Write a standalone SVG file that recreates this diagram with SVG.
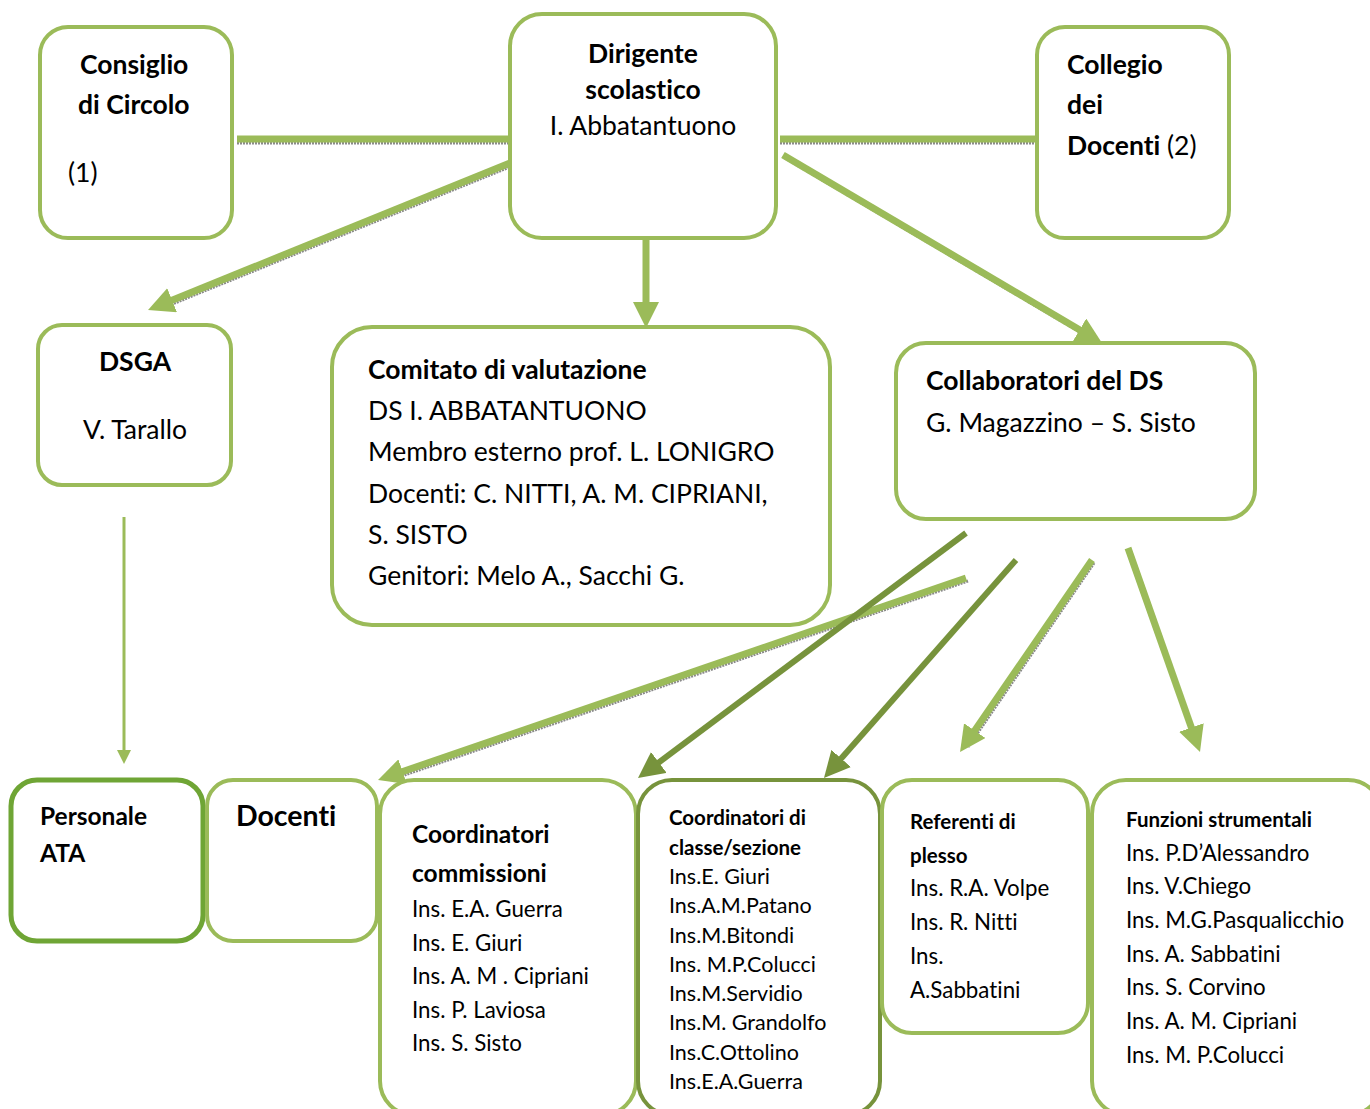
<svg xmlns="http://www.w3.org/2000/svg" width="1370" height="1109" viewBox="0 0 1370 1109">
<defs>
<style>
.box{fill:#fff;stroke:#9BBB59;stroke-width:4}
.dark{stroke:#77933C}
.ata{stroke:#6FA535;stroke-width:5}
text{font-family:Lato,"Open Sans",sans-serif;fill:#000;font-variant-ligatures:none;font-feature-settings:"liga" 0}
.b{font-weight:bold}
.t24{font-size:26.5px}
.t20{font-size:22.3px}
.t19{font-size:21.5px}
.ln{stroke:#9BBB59;stroke-width:7;fill:none}
.lnd{stroke:#77933C;stroke-width:6;fill:none}
.sh{stroke:#8a8a8a;stroke-width:3;stroke-dasharray:2 1;fill:none}
</style>
<marker id="ah" markerUnits="userSpaceOnUse" markerWidth="26" markerHeight="26" viewBox="0 0 26 26" refX="16" refY="13" orient="auto"><path d="M0,0 L26,13 L0,26 z" fill="#9BBB59"/></marker>
<marker id="ahd" markerUnits="userSpaceOnUse" markerWidth="26" markerHeight="26" viewBox="0 0 26 26" refX="16" refY="13" orient="auto"><path d="M0,0 L26,13 L0,26 z" fill="#77933C"/></marker>
<marker id="ahs" markerUnits="userSpaceOnUse" markerWidth="14" markerHeight="14" viewBox="0 0 14 14" refX="8" refY="7" orient="auto"><path d="M0,0 L14,7 L0,14 z" fill="#9BBB59"/></marker>
</defs>
<rect width="1370" height="1109" fill="#fff"/>
<g id="connectors">
<line class="sh" x1="237" y1="143" x2="510" y2="143"/>
<line class="ln" x1="237" y1="139" x2="510" y2="139"/>
<line class="sh" x1="780" y1="143" x2="1037" y2="143"/>
<line class="ln" x1="780" y1="139" x2="1037" y2="139"/>
<line class="sh" x1="512" y1="166" x2="160" y2="309"/>
<line class="ln" x1="510" y1="163" x2="157.3" y2="306.2" marker-end="url(#ah)"/>
<line class="ln" x1="646" y1="238" x2="646" y2="318" marker-end="url(#ah)"/>
<line class="sh" x1="785" y1="158" x2="1095" y2="341"/>
<line class="ln" x1="783" y1="155" x2="1093.4" y2="337.9" marker-end="url(#ah)"/>
<line x1="124" y1="517" x2="124" y2="758" stroke="#9BBB59" stroke-width="3" marker-end="url(#ahs)"/>
<line class="sh" x1="968" y1="581" x2="390" y2="780"/>
<line class="ln" x1="966" y1="578" x2="387.5" y2="776.8" marker-end="url(#ah)"/>
<line class="lnd" x1="966" y1="533" x2="646" y2="772" marker-end="url(#ahd)"/>
<line class="lnd" x1="1016" y1="560" x2="830.6" y2="770.5" marker-end="url(#ahd)"/>
<line class="sh" x1="1094" y1="563" x2="968" y2="747"/>
<line class="ln" x1="1092" y1="560" x2="965.7" y2="743.8" marker-end="url(#ah)"/>
<line class="sh" x1="1130" y1="551" x2="1199" y2="746"/>
<line class="ln" x1="1128" y1="548" x2="1196.7" y2="742.6" marker-end="url(#ah)"/>
</g>
<g id="consiglio">
<rect class="box" x="40" y="27" width="192" height="211" rx="28"/>
<text class="b t24" x="80" y="74">Consiglio</text>
<text class="b t24" x="78" y="114">di Circolo</text>
<text class="t24" x="68" y="182">(1)</text>
</g>
<g id="dirigente">
<rect class="box" x="510" y="14" width="266" height="224" rx="32"/>
<text class="b t24" x="643" y="63" text-anchor="middle">Dirigente</text>
<text class="b t24" x="643" y="99" text-anchor="middle">scolastico</text>
<text class="t24" x="643" y="135" text-anchor="middle">I. Abbatantuono</text>
</g>
<g id="collegio">
<rect class="box" x="1037" y="27" width="192" height="211" rx="28"/>
<text class="b t24" x="1067" y="74">Collegio</text>
<text class="b t24" x="1067" y="114">dei</text>
<text class="t24" x="1067" y="155"><tspan class="b">Docenti</tspan> (2)</text>
</g>
<g id="dsga">
<rect class="box" x="38" y="325" width="193" height="160" rx="24"/>
<text class="b t24" x="135" y="371" text-anchor="middle">DSGA</text>
<text class="t24" x="135" y="439" text-anchor="middle">V. Tarallo</text>
</g>
<g id="comitato">
<rect class="box" x="332" y="327" width="498" height="298" rx="40"/>
<text class="b t24" x="368" y="379">Comitato di valutazione</text>
<text class="t24" x="368" y="420">DS  I. ABBATANTUONO</text>
<text class="t24" x="368" y="461">Membro esterno prof. L. LONIGRO</text>
<text class="t24" x="368" y="503">Docenti: C. NITTI, A. M. CIPRIANI,</text>
<text class="t24" x="368" y="544">S. SISTO</text>
<text class="t24" x="368" y="585">Genitori: Melo A., Sacchi G.</text>
</g>
<g id="collaboratori">
<rect class="box" x="896" y="343" width="359" height="176" rx="30"/>
<text class="b t24" x="926" y="390">Collaboratori del DS</text>
<text class="t24" x="926" y="432">G. Magazzino – S. Sisto</text>
</g>
<g id="personale-ata">
<rect class="box ata" x="11" y="780" width="192" height="161" rx="26"/>
<text class="b" font-size="24.5" x="40" y="825">Personale</text>
<text class="b" font-size="24.5" x="40" y="862">ATA</text>
</g>
<g id="docenti">
<rect class="box" x="207" y="780" width="170" height="161" rx="26"/>
<text class="b" font-size="28.5" x="236" y="826">Docenti</text>
</g>
<g id="coord-commissioni">
<rect class="box" x="380" y="780" width="256" height="335" rx="34"/>
<text class="b" font-size="24.5" x="412" y="843">Coordinatori</text>
<text class="b" font-size="24.5" x="412" y="882">commissioni</text>
<text class="t20" x="412" y="917">Ins. E.A. Guerra</text>
<text class="t20" x="412" y="951">Ins. E. Giuri</text>
<text class="t20" x="412" y="984">Ins. A. M . Cipriani</text>
<text class="t20" x="412" y="1018">Ins. P. Laviosa</text>
<text class="t20" x="412" y="1051">Ins. S. Sisto</text>
</g>
<g id="coord-classe">
<rect class="box dark" x="638" y="780" width="242" height="335" rx="34"/>
<text class="b" font-size="20.5" x="669" y="825">Coordinatori di</text>
<text class="b" font-size="20.5" x="669" y="855">classe/sezione</text>
<text class="t19" x="669" y="884">Ins.E. Giuri</text>
<text class="t19" x="669" y="913">Ins.A.M.Patano</text>
<text class="t19" x="669" y="943">Ins.M.Bitondi</text>
<text class="t19" x="669" y="972">Ins. M.P.Colucci</text>
<text class="t19" x="669" y="1001">Ins.M.Servidio</text>
<text class="t19" x="669" y="1030">Ins.M. Grandolfo</text>
<text class="t19" x="669" y="1060">Ins.C.Ottolino</text>
<text class="t19" x="669" y="1089">Ins.E.A.Guerra</text>
</g>
<g id="referenti">
<rect class="box" x="882" y="780" width="206" height="253" rx="30"/>
<text class="b" font-size="20.5" x="910" y="829">Referenti di</text>
<text class="b" font-size="20.5" x="910" y="863">plesso</text>
<text class="t20" x="910" y="896">Ins. R.A. Volpe</text>
<text class="t20" x="910" y="930">Ins. R. Nitti</text>
<text class="t20" x="910" y="964">Ins.</text>
<text class="t20" x="910" y="998">A.Sabbatini</text>
</g>
<g id="funzioni">
<rect class="box" x="1092" y="780" width="290" height="335" rx="34"/>
<text class="b" font-size="20.5" x="1126" y="827">Funzioni strumentali</text>
<text class="t20" x="1126" y="861">Ins. P.D’Alessandro</text>
<text class="t20" x="1126" y="894">Ins. V.Chiego</text>
<text class="t20" x="1126" y="928">Ins. M.G.Pasqualicchio</text>
<text class="t20" x="1126" y="962">Ins. A. Sabbatini</text>
<text class="t20" x="1126" y="995">Ins. S. Corvino</text>
<text class="t20" x="1126" y="1029">Ins. A. M. Cipriani</text>
<text class="t20" x="1126" y="1063">Ins. M. P.Colucci</text>
</g>
</svg>
